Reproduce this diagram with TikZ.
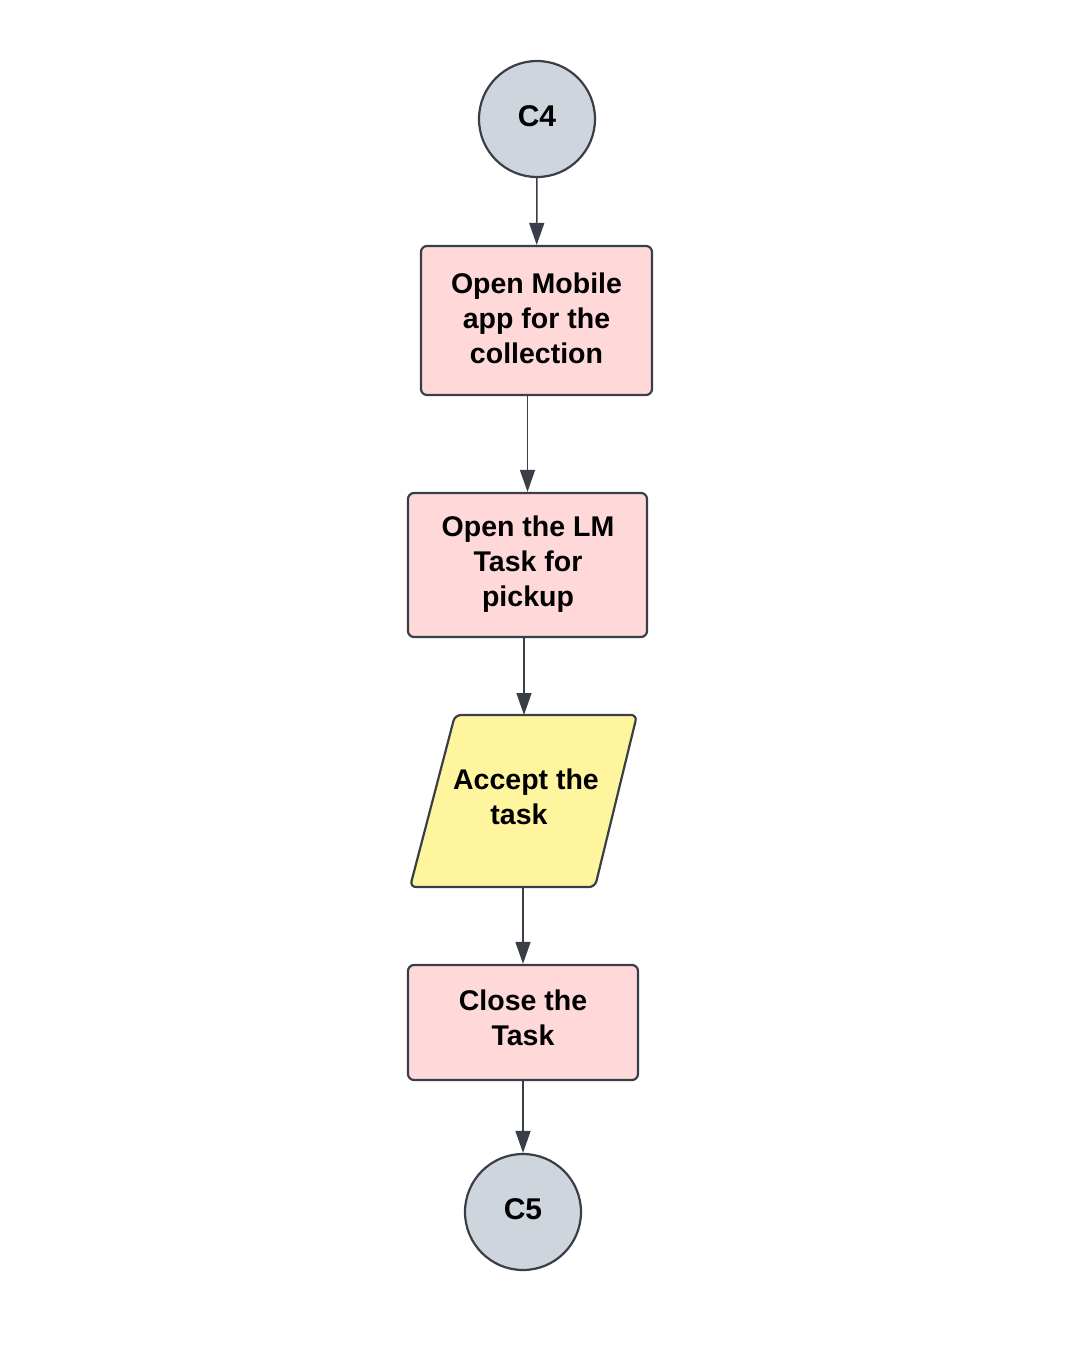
\documentclass[tikz,border=0pt]{standalone}
\usepackage{fontspec}
\setmainfont{Liberation Sans}
\usetikzlibrary{arrows.meta}
\definecolor{linec}{HTML}{3A3F47}
\definecolor{pinkf}{HTML}{FFD8DA}
\definecolor{grayf}{HTML}{CFD5DD}
\definecolor{yellowf}{HTML}{FFF59E}
\tikzset{
  txt/.style={font=\fontsize{28.5}{35}\selectfont\bfseries, align=center, text=black},
  base/.style={txt, draw=linec, line width=2.2pt},
  procbox/.style={base, fill=pinkf, rounded corners=6pt, inner sep=0pt},
  conn/.style={base, circle, fill=grayf, minimum size=116pt, inner sep=0pt},
  arr/.style={draw=linec, line width=1.5pt, -{Triangle[length=22pt,width=15pt]}},
}
\begin{document}
\begin{tikzpicture}[x=1pt,y=-1pt]
\useasboundingbox (0,0) rectangle (1080,1350);
\fill[white] (0,0) rectangle (1080,1350);
\node[conn] (c4) at (537,119) {};
\node[txt, font=\fontsize{30}{35}\selectfont\bfseries] (c4t) at (537,116) {C4};
\node[procbox, minimum width=231pt, minimum height=149pt] (b1) at (536.5,320.5) {};
\node[txt] (b1t) at (536.5,318) {Open Mobile\\app for the\\collection};
\node[procbox, minimum width=239pt, minimum height=144pt] (b2) at (527.5,565) {};
\node[txt] (b2t) at (528,564.5) {Open the LM\\Task for\\pickup};
\path[base, fill=yellowf, rounded corners=6pt] (455,715) -- (637,715) -- (595,887) -- (410,887) -- cycle;
\node[txt] (acc) at (526,797) {Accept the\\task\hspace*{14pt}};
\coordinate (acctop) at (524,715);
\coordinate (accbot) at (523,887);
\node[procbox, minimum width=230pt, minimum height=115pt] (b3) at (523,1022.5) {};
\node[txt] (b3t) at (523,1018) {Close the\\Task};
\node[conn] (c5) at (523,1212) {};
\node[txt, font=\fontsize{30}{35}\selectfont\bfseries] (c5t) at (523,1209) {C5};
\draw[arr] (c4) -- (b1);
\draw[arr] (b1.south -| b2.north) -- (b2.north);
\draw[arr] (b2.south -| acctop) -- (acctop);
\draw[arr] (accbot) -- (b3.north);
\draw[arr] (b3) -- (c5);
\end{tikzpicture}
\end{document}
